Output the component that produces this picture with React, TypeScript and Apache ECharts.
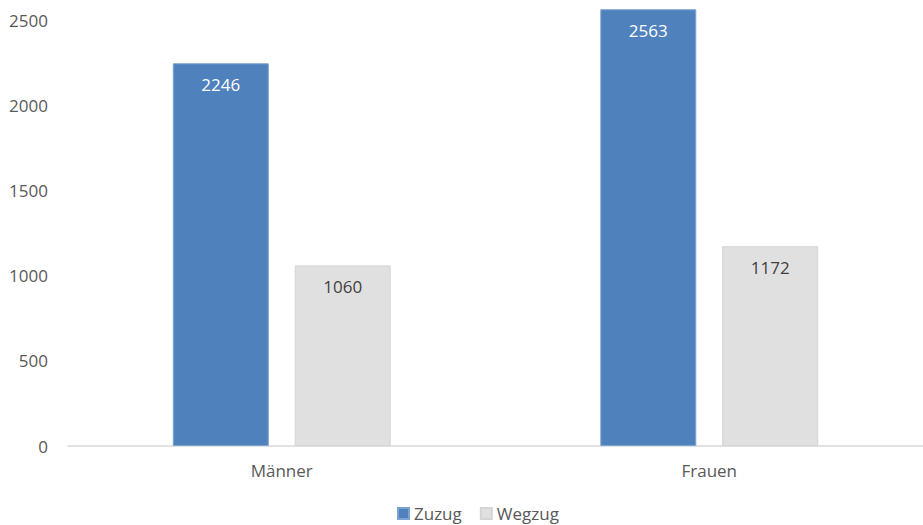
import React, { useEffect, useRef } from "react";
import * as echarts from "echarts";

const categories = ["Männer", "Frauen"];
const zuzug = [2246, 2563];
const wegzug = [1060, 1172];
const yTicks = { min: 0, max: 2500, interval: 500 };

const FONT = "'Open Sans', sans-serif";

export default function App() {
  const ref = useRef<HTMLDivElement>(null);
  useEffect(() => {
    if (!ref.current) return;
    const chart = echarts.init(ref.current, undefined, { renderer: "svg" });
    chart.setOption({
      animation: false,
      textStyle: { fontFamily: FONT },
      grid: { left: 68, width: 858, top: 20, bottom: 79 },
      legend: {
        left: 392,
        top: 500,
        itemWidth: 11,
        itemHeight: 11,
        itemGap: 18,
        icon: "rect",
        textStyle: { fontFamily: FONT, fontSize: 17, color: "#595959" },
        data: ["Zuzug", "Wegzug"],
      },
      xAxis: {
        type: "category",
        data: categories,
        axisTick: { show: false },
        axisLine: { lineStyle: { color: "#d9d9d9", width: 1.5 } },
        axisLabel: { color: "#595959", fontSize: 17, fontFamily: FONT, margin: 16 },
      },
      yAxis: {
        type: "value",
        min: yTicks.min,
        max: yTicks.max,
        interval: yTicks.interval,
        splitLine: { show: false },
        axisLine: { show: false },
        axisTick: { show: false },
        axisLabel: {
          color: "#595959",
          fontSize: 17,
          fontFamily: FONT,
          margin: 20,
          formatter: (v: number) => String(v),
        },
      },
      series: [
        {
          name: "Zuzug",
          type: "bar",
          data: zuzug,
          barWidth: 96,
          barGap: "27%",
          clip: false,
          itemStyle: { color: "#4f81bd", borderColor: "#7fa3d0", borderWidth: 1 },
          label: {
            show: true,
            position: "insideTop",
            distance: 13,
            color: "#ffffff",
            fontSize: 17,
            fontFamily: FONT,
          },
        },
        {
          name: "Wegzug",
          type: "bar",
          data: wegzug,
          barWidth: 96,
          clip: false,
          itemStyle: { color: "#e0e0e0", borderColor: "#d4d4d4", borderWidth: 1 },
          label: {
            show: true,
            position: "insideTop",
            distance: 13,
            color: "#404040",
            fontSize: 17,
            fontFamily: FONT,
          },
        },
      ],
    });
    return () => chart.dispose();
  }, []);
  return (
    <div
      ref={ref}
      style={{ position: "fixed", left: 0, top: 0, width: 923, height: 525, background: "#fff" }}
    />
  );
}
